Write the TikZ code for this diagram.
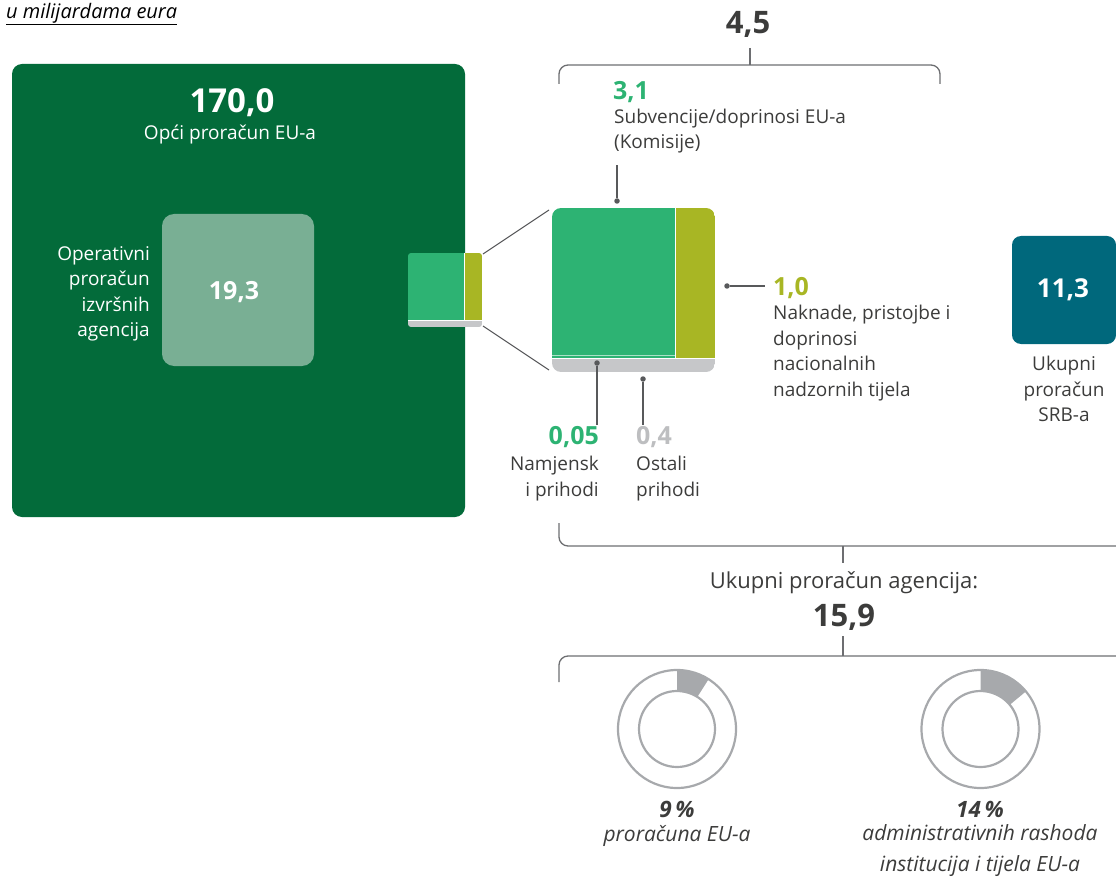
\documentclass[tikz,border=0pt]{standalone}
\usepackage{fontspec}
\setmainfont{Open Sans}
\usetikzlibrary{calc}
\definecolor{dkgreen}{HTML}{036B3A}
\definecolor{ltgreen}{HTML}{79AF94}
\definecolor{mgreen}{HTML}{2DB373}
\definecolor{olivec}{HTML}{A8B624}
\definecolor{lgray}{HTML}{C6C7C9}
\definecolor{numgray}{HTML}{BDBEC0}
\definecolor{txt}{HTML}{3C3C3B}
\definecolor{lnc}{HTML}{58595B}
\definecolor{tealc}{HTML}{00687C}
\definecolor{ring}{HTML}{A7A9AC}
\definecolor{brk}{HTML}{6D6E71}
\begin{document}
\begin{tikzpicture}[x=1pt,y=-1pt,
  body/.style={font=\fontsize{19}{25.5}\selectfont, text=txt, inner sep=0pt},
  bignum/.style={font=\fontsize{31}{33}\selectfont\bfseries, text=txt, inner sep=0pt},
  midnum/.style={font=\fontsize{25}{28}\selectfont\bfseries, inner sep=0pt},
  box/.style={rectangle, inner sep=0pt, draw=none},
  dot/.style={circle, fill=lnc, minimum size=5.5pt, inner sep=0pt},
  conn/.style={draw=lnc, line width=1.2pt},
  brace/.style={draw=brk, line width=1.3pt, rounded corners=9pt},
  ringline/.style={draw=ring, line width=2.2pt},
  pct/.style={font=\fontsize{22.5}{26}\selectfont\bfseries\itshape, text=txt, inner sep=0pt},
  ital/.style={font=\fontsize{21}{31}\selectfont\itshape, text=txt, inner sep=0pt, align=center}
]
\useasboundingbox (0,0) rectangle (1116,877);

% unit label
\node[font=\fontsize{20}{22}\selectfont\itshape, text=black, inner sep=0pt, anchor=west] (unit) at (6,14) {\underline{u milijardama eura}};

% EU general budget
\node[box, fill=dkgreen, rounded corners=10pt, minimum width=453pt, minimum height=453pt] (eu) at (238.5,290.5) {};
\node[bignum, font=\fontsize{33}{35}\selectfont\bfseries, text=white] (n170) at (232,103) {170,0};
\node[body, text=white] (teu) at (230,135) {Opći proračun EU-a};
\node[box, fill=ltgreen, rounded corners=12pt, minimum width=152pt, minimum height=152pt] (op) at (238,290) {};
\node[midnum, text=white] (n193) at (234,292) {19,3};
\node[body, text=white, align=right, anchor=east] (top) at (150,294) {Operativni\\proračun\\izvršnih\\agencija};

% small block
\begin{scope}
  \clip[rounded corners=3pt] (408,253) rectangle (482,327);
  \fill[mgreen] (408,253) rectangle (464,320);
  \fill[olivec] (464,253) rectangle (482,320);
  \fill[lgray] (408,320) rectangle (482,327);
  \draw[white, line width=0.6pt] (464,253) -- (464,320);
  \draw[white, line width=0.6pt] (408,320) -- (482,320);
\end{scope}
\coordinate (sbt) at (483,254);
\coordinate (sbb) at (483,326);
\coordinate (bbt) at (549,210);
\coordinate (bbb) at (549,370);
\draw[draw=lnc, line width=1pt] (sbt) -- (bbt);
\draw[draw=lnc, line width=1pt] (sbb) -- (bbb);

% big block
\begin{scope}
  \clip[rounded corners=9pt] (552,208) rectangle (715,372);
  \fill[mgreen] (552,208) rectangle (675,358);
  \fill[olivec] (675,208) rectangle (715,358);
  \fill[lgray] (552,358) rectangle (715,372);
  \draw[white, line width=0.8pt] (675,208) -- (675,358);
  \draw[white!60!mgreen, line width=1pt] (552,355.5) -- (675,355.5);
  \draw[white, line width=0.8pt] (552,358) -- (715,358);
\end{scope}

% connectors
\node[dot] (d31) at (617,201) {};
\coordinate (e31) at (617,165);
\draw[conn] (d31) -- (e31);
\node[dot] (d10) at (727,286) {};
\coordinate (e10) at (765,286);
\draw[conn] (d10) -- (e10);
\node[dot] (d005) at (597,363) {};
\coordinate (e005) at (597,425);
\draw[conn] (d005) -- (e005);
\node[dot] (d04) at (643,379) {};
\coordinate (e04) at (643,425);
\draw[conn] (d04) -- (e04);

% labels
\node[midnum, text=mgreen, anchor=west] (n31) at (613,92) {3,1};
\node[body, align=left, anchor=west] (t31) at (614,131) {Subvencije/doprinosi EU-a\\(Komisije)};
\node[midnum, text=olivec, anchor=west] (n10) at (773,288) {1,0};
\node[body, align=left, anchor=west] (t10) at (773,353) {Naknade, pristojbe i\\doprinosi\\nacionalnih\\nadzornih tijela};
\node[midnum, text=mgreen, anchor=east] (n005) at (599,437) {0,05};
\node[body, align=right, anchor=east] (t005) at (599,478.5) {Namjensk\\i prihodi};
\node[midnum, text=numgray, anchor=west] (n04) at (636,437) {0,4};
\node[body, align=left, anchor=west] (t04) at (636,478.5) {Ostali\\prihodi};

% SRB
\node[box, fill=tealc, rounded corners=9pt, minimum width=104pt, minimum height=108pt] (srb) at (1064,290) {};
\node[midnum, font=\fontsize{26}{28}\selectfont\bfseries, text=white] (n113) at (1063,290) {11,3};
\node[body, align=center] (tsrb) at (1064,389) {Ukupni\\proračun\\SRB-a};

% brace 4,5
\node[bignum] (n45) at (748,24) {4,5};
\coordinate (b1l) at (559,84);
\coordinate (b1r) at (940,84);
\draw[brace] (b1l) -- (559,65) -- (940,65) -- (b1r);
\coordinate (t1a) at (750,48);
\coordinate (t1b) at (750,65);
\draw[draw=brk, line width=1.3pt] (t1a) -- (t1b);

% brace total agencies
\coordinate (b2l) at (559,523);
\coordinate (b2r) at (1130,546);
\draw[brace] (b2l) -- (559,546) -- (b2r);
\coordinate (t2a) at (843,546);
\coordinate (t2b) at (843,563);
\draw[draw=brk, line width=1.3pt] (t2a) -- (t2b);
\node[body, font=\fontsize{22}{26}\selectfont] (tag) at (844,583) {Ukupni proračun agencija:};
\node[bignum] (n159) at (844,617) {15,9};
\coordinate (t3a) at (843,636);
\coordinate (t3b) at (843,656);
\draw[draw=brk, line width=1.3pt] (t3a) -- (t3b);
\coordinate (b3l) at (559,682);
\coordinate (b3r) at (1130,656);
\draw[brace] (b3l) -- (559,656) -- (b3r);

% donuts
\begin{scope}[shift={(677,729)}, y=1pt]
  \fill[ring] (90:59) arc[start angle=90, end angle=57.6, radius=59] -- (57.6:38) arc[start angle=57.6, end angle=90, radius=38] -- cycle;
  \draw[ringline] (0,0) circle[radius=59];
  \draw[ringline] (0,0) circle[radius=38];
\end{scope}
\begin{scope}[shift={(980.5,729)}, y=1pt]
  \fill[ring] (90:59) arc[start angle=90, end angle=39.6, radius=59] -- (39.6:38) arc[start angle=39.6, end angle=90, radius=38] -- cycle;
  \draw[ringline] (0,0) circle[radius=59];
  \draw[ringline] (0,0) circle[radius=38];
\end{scope}
\node[pct] (p9) at (677,809) {9\,\%};
\node[ital] (t9) at (677,836) {proračuna EU-a};
\node[pct] (p14) at (980,809) {14\,\%};
\node[ital] (t14) at (980,851) {administrativnih rashoda\\institucija i tijela EU-a};
\end{tikzpicture}
\end{document}
